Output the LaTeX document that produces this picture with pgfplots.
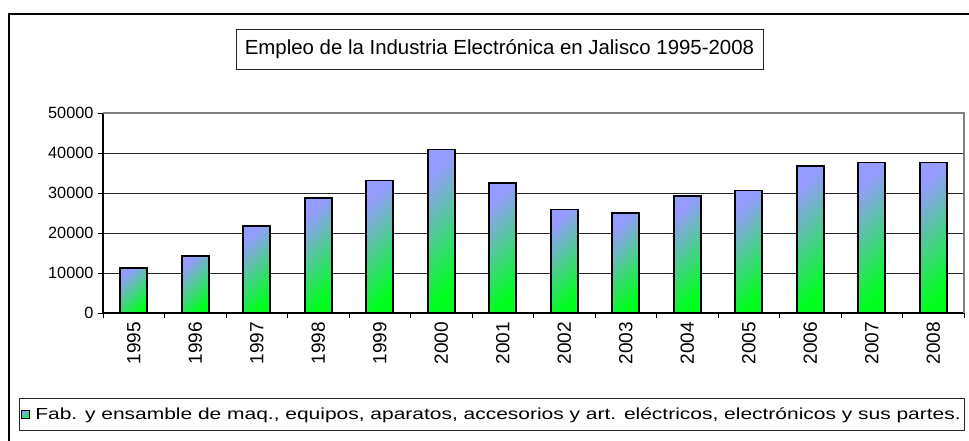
\documentclass[border=0pt]{standalone}
\usepackage{pgfplots}
\pgfplotsset{compat=1.18}
\usepackage{fontspec}
\setmainfont{Liberation Sans}
\definecolor{bartop}{RGB}{150,155,255}
\definecolor{barbot}{RGB}{0,255,30}
\definecolor{framegray}{RGB}{128,128,128}
\begin{document}
\begin{tikzpicture}
\useasboundingbox (0pt,0pt) rectangle (726.75pt,-330.75pt);
\draw[line width=0.9pt] (6.75pt,-345pt) -- (6.75pt,-10.5pt) -- (740pt,-10.5pt);
\node[draw=black!85, line width=0.7pt, minimum width=395.25pt, minimum height=30pt, inner sep=0pt, font=\fontsize{15.3}{17}\selectfont] at (374.6pt,-36.75pt) {Empleo de la Industria Electrónica en Jalisco 1995-2008};
\begin{axis}[
  at={(77.25pt,-84.75pt)}, anchor=north west,
  scale only axis,
  width=645.75pt, height=150pt,
  xmin=-0.5, xmax=13.5,
  ymin=0, ymax=50000,
  ytick={0,10000,...,50000},
  xtick={0,...,13},
  xticklabels={1995,1996,1997,1998,1999,2000,2001,2002,2003,2004,2005,2006,2007,2008},
  minor xtick={-0.5,0.5,...,13.5},
  major x tick style={draw=none},
  minor x tick style={black, line width=0.6pt},
  major tick length=4pt,
  minor tick length=4pt,
  tick align=outside,
  ytick style={black, line width=0.6pt},
  axis x line*=bottom,
  axis y line*=left,
  axis line style={black, line width=0.8pt, -},
  ymajorgrids,
  grid style={black!85, line width=0.6pt},
  scaled y ticks=false,
  /pgf/number format/fixed,
  /pgf/number format/1000 sep={},
  /pgf/number format/assume math mode=true,
  yticklabel style={font=\fontsize{12.2}{14}\selectfont, inner sep=3pt},
  xticklabel style={font=\fontsize{14.3}{16}\selectfont, rotate=90, anchor=east, inner sep=2.5pt},
  clip=false,
  legend style={at={(rel axis cs:-0.0976,-0.425)}, anchor=north west,
    draw=black!85, line width=0.6pt, font=\fontsize{12}{14}\selectfont,
    inner xsep=1pt, inner ysep=5pt},
  legend cell align=left,
  legend image code/.code={\path[draw=none,fill=none] (-0.5pt,0pt) -- (8.5pt,0pt);\draw[black, line width=0.6pt, top color=bartop, bottom color=barbot, shading angle=45] (0pt,-3pt) rectangle (6pt,3pt);},
  mybar/.style={ybar, bar width=20.25pt, bar shift=0pt, draw=black, line width=1.2pt,
    top color=bartop, bottom color=barbot, shading angle=45},
]
\addplot[mybar] coordinates {(0,11300)};
\addlegendentry{\scalebox{1.31}[1]{Fab. y ensamble de maq., equipos, aparatos, accesorios y art. eléctricos, electrónicos y sus partes.}}
\addplot[mybar, forget plot] coordinates {(1,14200)};
\addplot[mybar, forget plot] coordinates {(2,21700)};
\addplot[mybar, forget plot] coordinates {(3,28750)};
\addplot[mybar, forget plot] coordinates {(4,33100)};
\addplot[mybar, forget plot] coordinates {(5,40850)};
\addplot[mybar, forget plot] coordinates {(6,32500)};
\addplot[mybar, forget plot] coordinates {(7,25900)};
\addplot[mybar, forget plot] coordinates {(8,25000)};
\addplot[mybar, forget plot] coordinates {(9,29250)};
\addplot[mybar, forget plot] coordinates {(10,30650)};
\addplot[mybar, forget plot] coordinates {(11,36750)};
\addplot[mybar, forget plot] coordinates {(12,37650)};
\addplot[mybar, forget plot] coordinates {(13,37650)};
\draw[framegray, line width=0.8pt] (rel axis cs:0,1) -- (rel axis cs:1,1) -- (rel axis cs:1,0);
\end{axis}
\end{tikzpicture}
\end{document}
